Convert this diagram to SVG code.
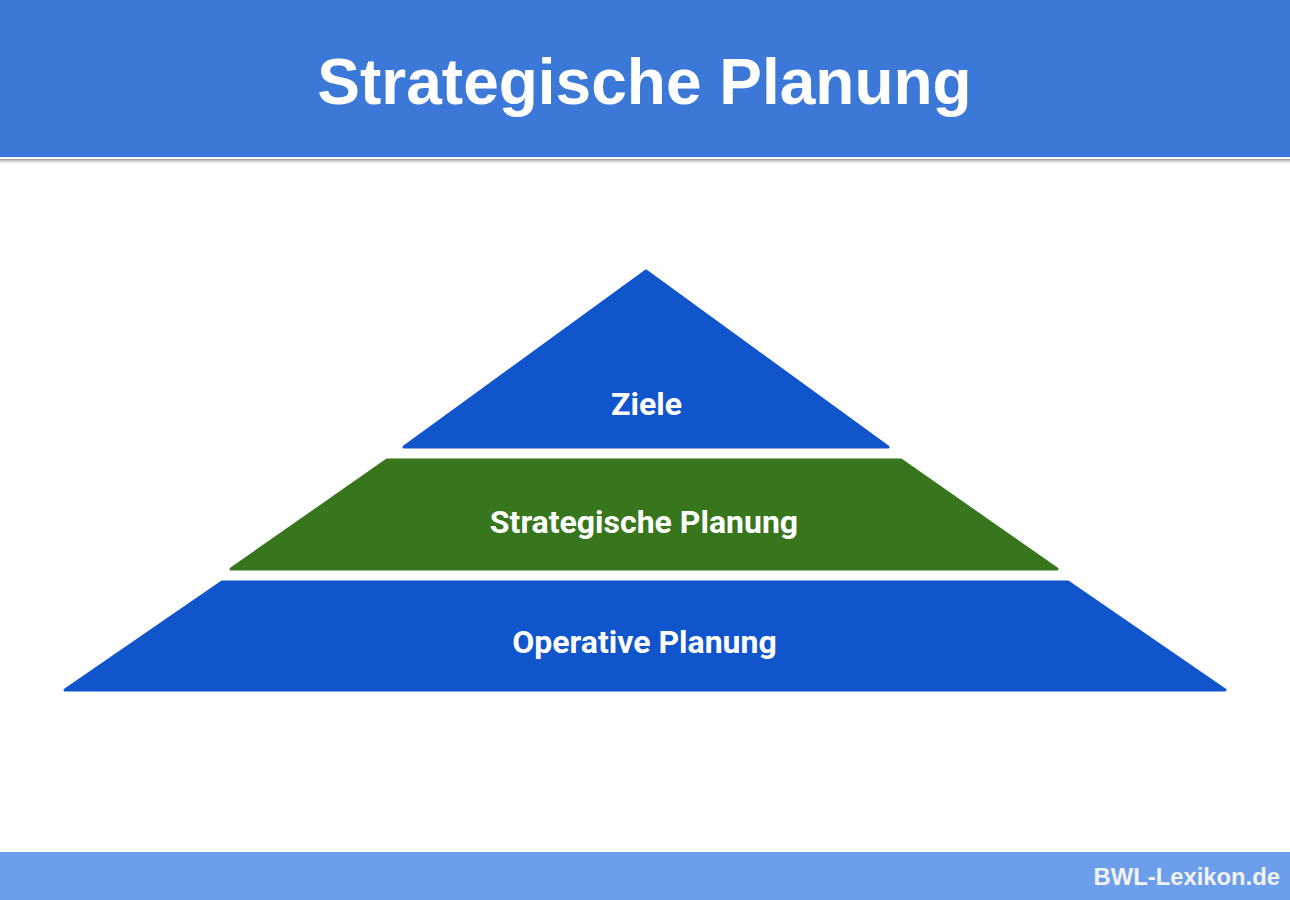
<svg xmlns="http://www.w3.org/2000/svg" width="1290" height="900" viewBox="0 0 1290 900">
<defs>
<linearGradient id="sh" x1="0" y1="0" x2="0" y2="1">
<stop offset="0" stop-color="#888" stop-opacity="0.9"/>
<stop offset="1" stop-color="#fff" stop-opacity="0"/>
</linearGradient>
</defs>
<style>
.lvl{stroke-width:3;stroke-linejoin:round}
.blue{fill:#1155cc;stroke:#1155cc}
.green{fill:#38761d;stroke:#38761d}
.lbl{font-family:Roboto,"Liberation Sans",sans-serif;font-weight:bold;font-size:32px;fill:#fff;text-anchor:middle}
</style>
<rect width="1290" height="900" fill="#fff"/>
<g id="header">
<rect x="0" y="159" width="1290" height="6" fill="url(#sh)"/>
<rect x="0" y="0" width="1290" height="157" fill="#3c78d8"/>
<text x="644.5" y="104" font-family="'Liberation Sans',Arial,sans-serif" font-weight="bold" font-size="64" fill="#fff" text-anchor="middle">Strategische Planung</text>
</g>
<g id="ziele">
<polygon class="lvl blue" points="646,271 888,447 404,447"/>
<text class="lbl" x="646.5" y="415">Ziele</text>
</g>
<g id="strategische">
<polygon class="lvl green" points="387,460 901,460 1057,569 231,569"/>
<text class="lbl" x="644" y="533">Strategische Planung</text>
</g>
<g id="operative">
<polygon class="lvl blue" points="222,582 1068,582 1225,690 65,690"/>
<text class="lbl" x="644.5" y="653">Operative Planung</text>
</g>
<g id="connectors"/>
<g id="footer">
<rect x="0" y="852" width="1290" height="48" fill="#6d9eeb"/>
<text x="1280" y="885" font-family="'Liberation Sans',Arial,sans-serif" font-weight="bold" font-size="23.8" fill="#f3f3f3" text-anchor="end">BWL-Lexikon.de</text>
</g>
</svg>
